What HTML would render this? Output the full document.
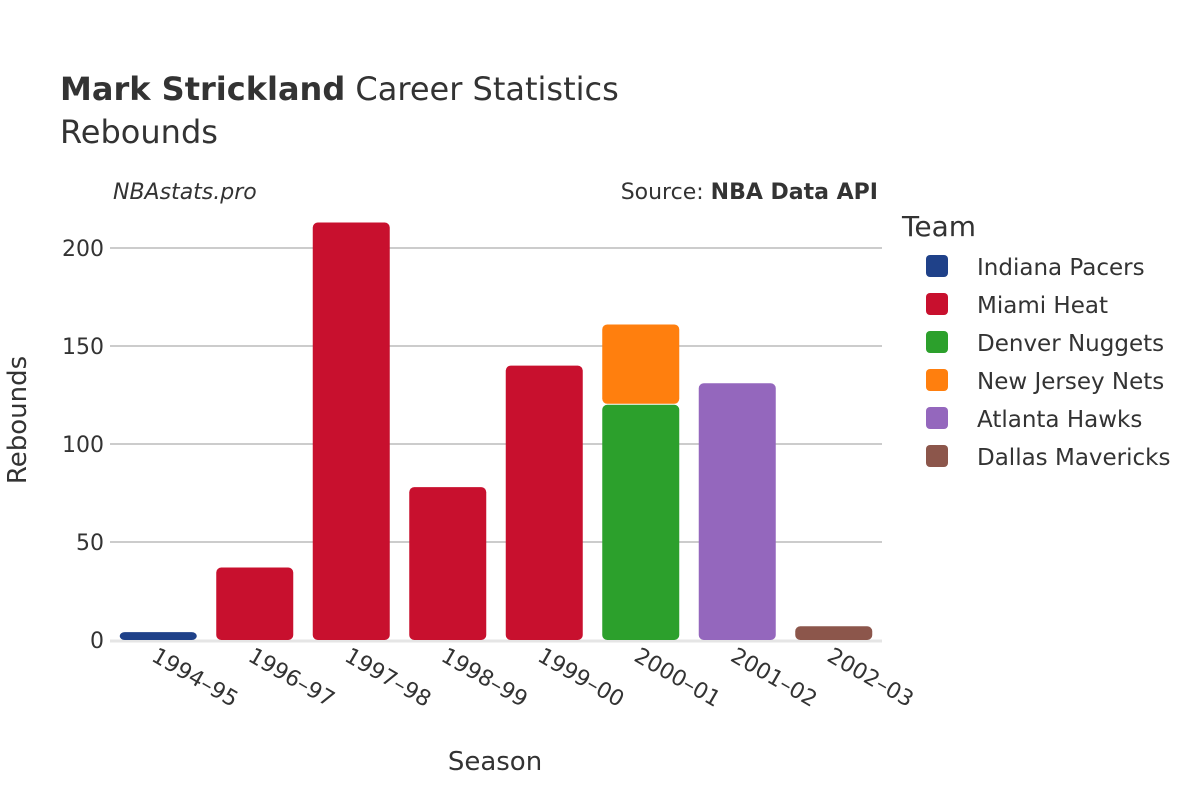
<!DOCTYPE html>
<html><head><meta charset="utf-8"><style>
body{margin:0;background:#fff;font-family:"Liberation Sans","DejaVu Sans",sans-serif;}
svg text{font-family:"DejaVu Sans","Liberation Sans",sans-serif;fill:#333;}
</style></head><body>
<svg id="chart" width="1200" height="800">
<text x="60" y="100" font-size="32"><tspan font-weight="bold">Mark Strickland</tspan> Career Statistics</text>
<text x="60" y="143" font-size="32">Rebounds</text>
<text x="113" y="199" font-size="22" font-style="italic">NBAstats.pro</text>
<text x="878" y="199" font-size="22" text-anchor="end">Source: <tspan font-weight="bold">NBA Data API</tspan></text>
<g id="grid"></g><g id="bars"></g><g id="xt"></g>
<text x="495" y="770" font-size="26" text-anchor="middle">Season</text>
<text transform="translate(26,420) rotate(-90)" font-size="26" text-anchor="middle">Rebounds</text>
<text x="902" y="236" font-size="28">Team</text>
<g id="legend"></g>
</svg>
<script>
const seasons=["1994–95","1996–97","1997–98","1998–99","1999–00","2000–01","2001–02","2002–03"];
const teams=["Indiana Pacers","Miami Heat","Denver Nuggets","New Jersey Nets","Atlanta Hawks","Dallas Mavericks"];
const colors=["#1f4189","#c8102e","#2ca02c","#ff7f0e","#9467bd","#8c564b"];
const pacers=[4,0,0,0,0,0,0,0];
const heat=[0,37,213,78,140,0,0,0];
const nuggets=[0,0,0,0,0,120,0,0];
const nets=[0,0,0,0,0,41,0,0];
const hawks=[0,0,0,0,0,0,131,0];
const mavs=[0,0,0,0,0,0,0,7];
const yTicks=[0,50,100,150,200];
const series=[pacers,heat,nuggets,nets,hawks,mavs];
const NS="http://www.w3.org/2000/svg";
const x0=110,x1=882,y0=640,scale=1.96;
const bw=(x1-x0)/seasons.length;
const y=v=>y0-v*scale;
const xc=i=>x0+bw*(i+0.5);
function mk(tag,at,parent){const e=document.createElementNS(NS,tag);for(const k in at)e.setAttribute(k,at[k]);document.getElementById(parent).appendChild(e);return e;}
yTicks.forEach(t=>{
  if(t>0){const l=mk('line',{x1:x0,x2:x1,y1:y(t),y2:y(t),stroke:'#999','stroke-width':1},'grid');
  
  }
  const tx=mk('text',{x:104,y:y(t)+8,'font-size':22,'text-anchor':'end'},'grid');tx.textContent=t;
  
  
});
const zl=mk('line',{x1:x0,x2:x1,y1:y0+1,y2:y0+1,stroke:'#e5e5e5','stroke-width':3},'grid');


seasons.forEach((s,i)=>{
  let base=0;
  series.forEach((arr,j)=>{
    const v=arr[i]; if(!v)return;
    const r=mk('rect',{x:xc(i)-38.5,y:y(base+v),width:77,height:v*scale-(base>0?1:0),rx:5,fill:colors[j]},'bars');
    
    
    base+=v;
  });
  const t=mk('text',{transform:`translate(${xc(i)-8},${660}) rotate(30)`,'font-size':22},'xt');t.textContent=s;
  
  
});
teams.forEach((tm,j)=>{
  const yy=266+j*38;
  const r=mk('rect',{x:926,y:yy-11,width:22,height:22,rx:4,fill:colors[j]},'legend');
  
  
  const t=mk('text',{x:977,y:yy+9,'font-size':23},'legend');t.textContent=tm;
  
  
});
</script>
</body></html>
